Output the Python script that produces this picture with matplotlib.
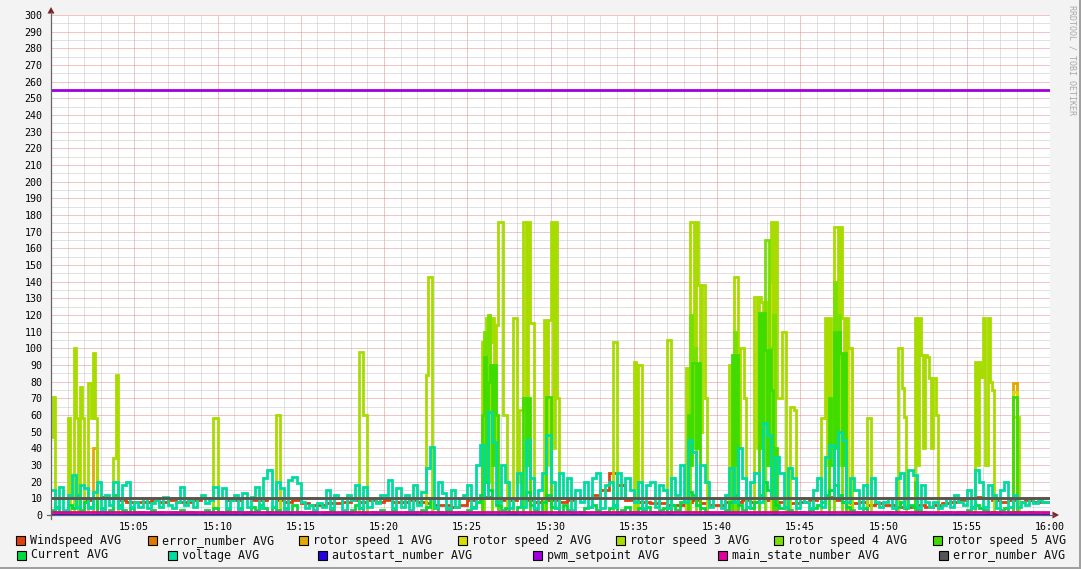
import numpy as np
import matplotlib
matplotlib.use('Agg')
import matplotlib.pyplot as plt
from matplotlib.patches import Rectangle, Polygon
from matplotlib.lines import Line2D
from matplotlib.ticker import MultipleLocator

W, H = 1081, 569
MONO = 'DejaVu Sans Mono'

# 15:00 .. 16:00, voltage/current sampled every 15 s (240 values, 20 per 5 minutes)
step = 0.25
voltage = [
    15, 4, 17, 3, 12, 24, 5, 18, 16, 4, 14, 20, 3, 12, 6, 20, 4, 18, 20, 5,
    8, 5, 10, 4, 7, 9, 5, 11, 6, 4, 8, 17, 6, 9, 5, 10, 12, 7, 9, 17,
    10, 16, 4, 9, 12, 3, 13, 5, 11, 17, 4, 22, 27, 5, 20, 16, 3, 21, 23, 19,
    8, 4, 6, 3, 7, 5, 15, 4, 12, 10, 3, 12, 9, 18, 4, 17, 5, 10, 7, 12,
    12, 21, 4, 16, 5, 12, 3, 18, 6, 14, 28, 41, 5, 20, 13, 4, 15, 5, 10, 12,
    18, 4, 30, 42, 10, 62, 44, 8, 30, 20, 4, 10, 25, 5, 45, 22, 4, 15, 25, 48,
    20, 4, 25, 10, 22, 3, 15, 8, 20, 5, 22, 25, 4, 18, 20, 5, 25, 10, 22, 15,
    8, 20, 4, 18, 20, 5, 18, 15, 4, 22, 12, 30, 8, 45, 38, 10, 30, 20, 5, 10,
    10, 4, 12, 28, 8, 40, 22, 5, 20, 25, 8, 55, 48, 10, 35, 25, 5, 28, 22, 4,
    10, 8, 4, 15, 22, 5, 35, 42, 10, 50, 45, 8, 22, 15, 4, 18, 10, 22, 8, 5,
    8, 10, 4, 22, 25, 5, 27, 24, 5, 18, 8, 5, 8, 4, 6, 10, 5, 12, 8, 6,
    15, 4, 27, 20, 5, 18, 12, 4, 15, 20, 5, 12, 5, 8, 6, 10, 7, 9, 8, 8,
]
current = [
    3, 5, 1, 2, 6, 4, 12, 3, 8, 5, 10, 2, 4, 1, 3, 12, 6, 3, 2, 4,
    1, 2, 0, 1, 3, 1, 2, 0, 1, 2, 1, 3, 0, 2, 1, 0, 1, 3, 2, 4,
    2, 1, 3, 0, 2, 4, 1, 2, 5, 3, 6, 4, 2, 5, 3, 2, 4, 1, 6, 2,
    1, 0, 2, 1, 0, 1, 2, 3, 1, 0, 2, 1, 3, 6, 4, 1, 0, 2, 1, 3,
    2, 1, 3, 1, 0, 2, 1, 2, 0, 3, 5, 10, 4, 2, 1, 3, 0, 1, 2, 0,
    3, 5, 8, 12, 20, 15, 10, 6, 3, 4, 2, 1, 5, 10, 14, 6, 3, 2, 8, 12,
    5, 4, 2, 6, 3, 1, 0, 2, 4, 5, 6, 3, 1, 2, 4, 6, 2, 3, 5, 2,
    1, 4, 3, 5, 2, 1, 3, 4, 2, 6, 3, 8, 10, 14, 12, 6, 4, 2, 1, 0,
    1, 2, 3, 8, 12, 6, 3, 5, 4, 8, 12, 20, 15, 10, 6, 4, 5, 3, 2, 1,
    2, 1, 3, 4, 6, 8, 12, 15, 18, 12, 8, 5, 3, 2, 1, 4, 2, 1, 0, 1,
    1, 2, 0, 5, 8, 4, 6, 5, 3, 2, 1, 0, 1, 0, 1, 2, 0, 1, 2, 1,
    3, 5, 6, 4, 3, 1, 2, 1, 3, 4, 1, 2, 0, 1, 0, 2, 1, 0, 1, 1,
]

# rotor speeds: bursts as (start minute, values every 7.5 s), zero elsewhere
fine_step = 0.125
rotor3 = [
    (0.0, [47, 71, 0]), (1.0, [58, 0]), (1.375, [100, 58, 0]), (1.75, [77, 58, 0]),
    (2.25, [79, 58, 97, 58, 0]), (3.75, [34, 84, 0]), (9.75, [58, 58, 0]),
    (13.5, [60, 60, 0]), (18.5, [98, 98, 60, 60, 0]), (22.5, [84, 143, 143, 0]),
    (25.875, [104, 40, 118, 20, 104, 118, 30, 114, 176, 176, 60, 60, 0]),
    (27.75, [118, 118, 20, 63, 63, 176, 30, 176, 115, 115, 0]),
    (29.625, [117, 30, 117, 176, 40, 176, 70, 0]),
    (33.75, [104, 104, 0]), (35.0, [92, 0, 90, 90, 0]), (37.0, [105, 105, 0]),
    (38.125, [88, 30, 176, 176, 40, 176, 138, 50, 138, 70, 0]),
    (40.75, [90, 30, 143, 143, 40, 100, 100, 70, 0]),
    (42.25, [131, 40, 131, 128, 30, 128, 40, 140, 176, 50, 176, 70, 70, 110, 110, 0, 0, 65, 65, 63, 0]),
    (46.25, [58, 58, 118, 30, 118, 40, 173, 173, 30, 173, 118, 40, 118, 100, 100, 0]),
    (49.0, [58, 58, 0]), (50.875, [100, 100, 76, 59, 0]),
    (51.875, [118, 30, 118, 96, 40, 96, 95, 82, 40, 82, 60, 0]),
    (55.5, [92, 30, 92, 83, 118, 30, 118, 80, 75, 0]), (57.75, [59, 59, 59, 0]),
]
rotor5 = [
    (25.875, [60, 95, 20, 80, 90, 30, 90, 60, 0]), (28.375, [70, 30, 70, 0]),
    (29.75, [71, 71, 0]), (38.25, [60, 30, 91, 91, 40, 91, 0]), (40.875, [96, 30, 96, 0]),
    (42.5, [121, 40, 121, 99, 30, 99, 75, 0, 40, 0]),
    (46.75, [70, 30, 110, 40, 110, 97, 30, 97, 0]), (51.875, [20, 0]), (57.75, [71, 71, 0]),
]
rotor4 = [
    (26.0, [110, 30, 120, 90, 0]), (38.375, [120, 40, 100, 0]), (41.0, [110, 0]),
    (42.875, [165, 165, 40, 100, 120, 0]), (47.0, [140, 40, 120, 95, 0]),
]
rotor1 = [(2.5, [40, 40, 0]), (57.75, [79, 79, 0])]
rotor2 = [(43.25, [145, 145, 0]), (47.875, [100, 100, 0]), (57.75, [74, 74, 0])]

# windspeed, one value every 30 s
wind_step = 0.5
windspeed = [
    10, 10, 11, 10, 9, 10, 11, 10, 9, 8,
    8, 8, 9, 8, 9, 8, 8, 9, 10, 10,
    10, 9, 9, 10, 9, 9, 10, 9, 8, 9,
    7, 6, 6, 7, 7, 8, 9, 8, 9, 8,
    9, 8, 8, 9, 8, 7, 6, 6, 5, 6,
    9, 10, 11, 10, 9, 9, 10, 9, 8, 9,
    9, 8, 9, 10, 10, 12, 15, 25, 18, 9,
    8, 8, 7, 7, 6, 6, 8, 9, 7, 6,
    6, 8, 8, 9, 8, 10, 9, 8, 7, 7,
    8, 9, 10, 11, 9, 8, 7, 8, 6, 7,
    6, 6, 5, 5, 6, 5, 6, 7, 8, 9,
    10, 11, 10, 9, 8, 9, 8, 9, 8, 8,
]

# flat series
error_number_1 = 10
autostart_number = 0
pwm_setpoint = 255
main_state_number = 2
error_number_2 = 10

tick_minutes = [5, 10, 15, 20, 25, 30, 35, 40, 45, 50, 55, 60]
tick_labels = ['15:05', '15:10', '15:15', '15:20', '15:25', '15:30',
               '15:35', '15:40', '15:45', '15:50', '15:55', '16:00']

legend_rows = [
    ['Windspeed AVG', 'error_number AVG', 'rotor speed 1 AVG', 'rotor speed 2 AVG',
     'rotor speed 3 AVG', 'rotor speed 4 AVG', 'rotor speed 5 AVG'],
    ['Current AVG', 'voltage AVG', 'autostart_number AVG', 'pwm_setpoint AVG',
     'main_state_number AVG', 'error_number AVG'],
]
colors = {
    'wind': '#e0400c', 'err1': '#e07800', 'r1': '#e0a800', 'r2': '#d8dc00',
    'r3': '#a8dc00', 'r4': '#78e000', 'r5': '#40dc00', 'cur': '#00dc40',
    'volt': '#00dca0', 'auto': '#2800e0', 'pwm': '#a000dc', 'main': '#e000a0',
    'err2': '#555555',
}
legend_colors = [
    ['wind', 'err1', 'r1', 'r2', 'r3', 'r4', 'r5'],
    ['cur', 'volt', 'auto', 'pwm', 'main', 'err2'],
]
legend_text_x = [[30, 162, 313, 472, 630, 788, 947], [31, 182, 332, 547, 732, 953]]
legend_y = [540.5, 555]


def from_bursts(bursts, n):
    out = np.zeros(n)
    for start, vals in bursts:
        i0 = int(round(start / fine_step))
        out[i0:i0 + len(vals)] = vals
    return out


def px(x, y):
    return x / W, 1 - y / H


n = len(voltage)
edges = np.arange(n + 1) * step
n_fine = int(round(60 / fine_step))
fine_edges = np.arange(n_fine + 1) * fine_step
wind_edges = np.arange(len(windspeed) + 1) * wind_step

fig = plt.figure(figsize=(W / 100, H / 100), dpi=100, facecolor='#f3f3f3')
ax = fig.add_axes([51 / W, 1 - 515 / H, 999 / W, 500 / H])
ax.set_facecolor('white')
ax.set_xlim(0, 60)
ax.set_ylim(0, 300)

ax.xaxis.set_major_locator(MultipleLocator(5))
ax.xaxis.set_minor_locator(MultipleLocator(1))
ax.yaxis.set_major_locator(MultipleLocator(10))
ax.yaxis.set_minor_locator(MultipleLocator(5))
ax.grid(which='minor', color='#c4c4c4', linestyle=(0, (1, 1)), lw=0.72)
ax.grid(which='major', color='#e08c8c', linestyle=(0, (1, 1)), lw=0.72)
ax.set_axisbelow(True)
for s in ax.spines.values():
    s.set_visible(False)

ax.set_xticks(tick_minutes, tick_labels)
ax.set_yticks(range(0, 301, 10))
ax.tick_params(which='both', length=0, labelsize=7.2, colors='black')
ax.tick_params(axis='x', pad=5)
ax.tick_params(axis='y', pad=6)
for lab in ax.get_xticklabels() + ax.get_yticklabels():
    lab.set_family(MONO)

lw = 2.0


def stairs(vals, e, c):
    p = ax.stairs(vals, e, baseline=None, color=colors[c], lw=lw)
    p.set_joinstyle('miter')
    p.set_capstyle('butt')


def flat(v, c):
    ax.plot([0, 60], [v, v], color=colors[c], lw=lw, solid_capstyle='butt')


stairs(windspeed, wind_edges, 'wind')
flat(error_number_1, 'err1')
stairs(from_bursts(rotor1, n_fine), fine_edges, 'r1')
stairs(from_bursts(rotor2, n_fine), fine_edges, 'r2')
stairs(from_bursts(rotor3, n_fine), fine_edges, 'r3')
stairs(from_bursts(rotor4, n_fine), fine_edges, 'r4')
stairs(from_bursts(rotor5, n_fine), fine_edges, 'r5')
stairs(current, edges, 'cur')
stairs(voltage, edges, 'volt')
flat(autostart_number, 'auto')
flat(pwm_setpoint, 'pwm')
flat(main_state_number, 'main')
flat(error_number_2, 'err2')

# axes with arrows, drawn in figure pixels
fig.add_artist(Line2D([px(51, 0)[0]] * 2, [px(0, 519)[1], px(0, 12)[1]], color='#666666', lw=0.9))
fig.add_artist(Line2D([px(47, 0)[0], px(1054, 0)[0]], [px(0, 515)[1]] * 2, color='#666666', lw=0.9))
fig.add_artist(Polygon([px(51, 7), px(47.5, 13.5), px(54.5, 13.5)], closed=True,
                       facecolor='#7f1f1f', edgecolor='none'))
fig.add_artist(Polygon([px(1059, 515), px(1052.5, 511.5), px(1052.5, 518.5)], closed=True,
                       facecolor='#7f1f1f', edgecolor='none'))

# legend
for row, cols, xs, y in zip(legend_rows, legend_colors, legend_text_x, legend_y):
    for label, c, x in zip(row, cols, xs):
        x0, y0 = px(x - 14, y + 4.5)
        fig.add_artist(Rectangle((x0, y0), 9 / W, 9 / H, facecolor=colors[c],
                                 edgecolor='black', lw=0.8))
        fig.text(x / W, 1 - y / H, label, family=MONO, fontsize=8.4,
                 color='#111111', va='center', ha='left')

fig.text(1072 / W, 1 - 5 / H, 'RRDTOOL / TOBI OETIKER', rotation=270, va='top',
         ha='center', family=MONO, fontsize=6, color='#a8a8a8')

# frame shade
fig.add_artist(Rectangle((0, 0), 1, 2 / H, facecolor='#a0a0a0', edgecolor='none'))
fig.add_artist(Rectangle((1 - 2 / W, 0), 2 / W, 1, facecolor='#a0a0a0', edgecolor='none'))

fig.savefig('out.png', dpi=100, facecolor=fig.get_facecolor())
